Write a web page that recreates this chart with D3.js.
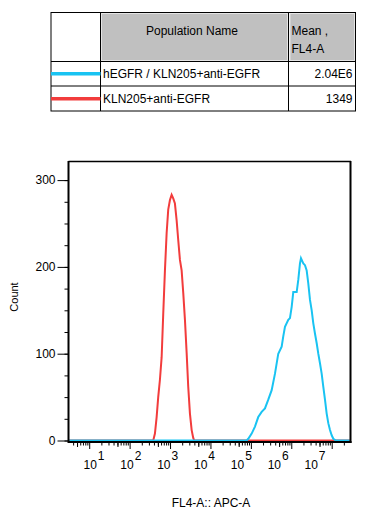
<!DOCTYPE html>
<html>
<head>
<meta charset="utf-8">
<script src="https://cdn.jsdelivr.net/npm/d3@7"></script>
<style>
  body { margin: 0; background: #fff; }
  svg { display: block; font-family: "Liberation Sans", Arial, sans-serif; }
</style>
</head>
<body>
<svg id="chart" width="370" height="513"></svg>
<script>
// legend table
var populationNames = ["hEGFR / KLN205+anti-EGFR", "KLN205+anti-EGFR"];
var meanValues = ["2.04E6", "1349"];
var seriesColors = ["#19c3f2", "#f23c3c"];

// histogram data (FL4-A intensity, count)
var redX = [3.2, 384, 423, 466, 510, 562, 620, 679, 748, 824, 902, 995, 1096, 1200, 1321, 1455, 1595, 1758, 1936, 2123, 2339, 2576, 2820, 3109, 3427, 3750, 3972, 2.8e7];
var redY = [0, 0, 8, 27, 50, 70, 96, 146, 196, 239, 266, 277, 283, 279, 273, 254, 231, 208, 196, 170, 139, 101, 62, 31, 12, 3, 0, 0];

var blueX = [3.2, 78700, 86300, 104700, 126300, 152300, 185000, 223200, 269600, 327300, 395200, 476600, 578100, 633400, 698000, 843000, 928000, 1023000, 1121000, 1361000, 1490000, 1641000, 1738000, 1982000, 2183000, 2404000, 2635000, 2904000, 3199000, 3508000, 3864000, 4256000, 4660000, 5129000, 5649000, 6194000, 6823000, 7516000, 8241000, 9078000, 10000000, 10960000, 12760000, 2.8e7];
var blueY = [0, 0, 2, 8, 16, 27, 33, 37, 47, 58, 77, 100, 108, 120, 131, 139, 141, 154, 171, 171, 185, 204, 210, 204, 202, 196, 181, 162, 150, 135, 123, 112, 100, 89, 77, 62, 47, 31, 20, 12, 6, 2, 0, 0];

var yTicks = [0, 100, 200, 300];
var xExponents = [1, 2, 3, 4, 5, 6, 7];

var svg = d3.select("#chart");

//---- table ----
var table = svg.append("g");
var tx0 = 51, tx1 = 100.5, tx2 = 288.5, tx3 = 355.5;
var ty0 = 12.5, ty1 = 61.5, ty2 = 86, ty3 = 111;

table.append("rect").attr("x", tx2 - 187).attr("y", ty0 + 1).attr("width", 186).attr("height", ty1 - ty0 - 2)
  .attr("fill", "#c0c0c0").attr("stroke", "#e4e4e4");
table.append("rect").attr("x", tx2 + 1.5).attr("y", ty0 + 1).attr("width", tx3 - tx2 - 2.5).attr("height", ty1 - ty0 - 2)
  .attr("fill", "#c0c0c0").attr("stroke", "#e4e4e4");

table.append("rect").attr("x", tx0).attr("y", ty0).attr("width", tx3 - tx0).attr("height", ty3 - ty0)
  .attr("fill", "none").attr("stroke", "#000");
[tx1, tx2].forEach(function (x) {
  table.append("line").attr("x1", x).attr("x2", x).attr("y1", ty0).attr("y2", ty3).attr("stroke", "#000");
});
[ty1, ty2].forEach(function (y) {
  table.append("line").attr("x1", tx0).attr("x2", tx3).attr("y1", y).attr("y2", y).attr("stroke", "#000");
});

table.append("text").attr("x", 192).attr("y", 34.5).attr("text-anchor", "middle")
  .attr("font-size", 12).text("Population Name");
table.append("text").attr("x", 291.5).attr("y", 34.5).attr("font-size", 12).text("Mean ,");
table.append("text").attr("x", 291.5).attr("y", 52.5).attr("font-size", 12).text("FL4-A");

var rowCenters = [73.7, 98.7];
populationNames.forEach(function (name, i) {
  table.append("line").attr("x1", tx0).attr("x2", tx1).attr("y1", rowCenters[i]).attr("y2", rowCenters[i])
    .attr("stroke", seriesColors[i]).attr("stroke-width", 3.5);
  table.append("text").attr("x", 103).attr("y", rowCenters[i] + 4.3).attr("font-size", 12).text(name);
  table.append("text").attr("x", 352.5).attr("y", rowCenters[i] + 4.3).attr("font-size", 12)
    .attr("text-anchor", "end").text(meanValues[i]);
});

//---- histogram ----
var x = d3.scaleLog().domain([Math.pow(10, 0.5), Math.pow(10, 7.453)]).range([69, 350]);
var y = d3.scaleLinear().domain([0, 322]).range([440.5, 161]);
var labelPos = d3.scaleLog().domain([10, 1e7]).range([90, 311]);

var line = d3.line()
  .x(function (d) { return x(d[0]); })
  .y(function (d) { return y(d[1]); });

svg.append("path")
  .attr("d", line(d3.zip(redX, redY)))
  .attr("fill", "none").attr("stroke", seriesColors[1]).attr("stroke-width", 2);
svg.append("path")
  .attr("d", line(d3.zip(blueX, blueY)))
  .attr("fill", "none").attr("stroke", seriesColors[0]).attr("stroke-width", 2);

// frame
svg.append("line").attr("x1", 68.5).attr("x2", 351).attr("y1", 161.5).attr("y2", 161.5).attr("stroke", "#000").attr("stroke-width", 1.5);
svg.append("line").attr("x1", 350.5).attr("x2", 350.5).attr("y1", 161).attr("y2", 443).attr("stroke", "#000").attr("stroke-width", 2);

// y axis
var yAxis = svg.append("g").attr("transform", "translate(68.5,0)");
yAxis.append("g")
  .call(d3.axisLeft(y).tickValues(d3.range(0, 322, 25)).tickSize(4).tickFormat(""))
  .call(function (g) { g.select(".domain").remove(); });
yAxis.append("g")
  .call(d3.axisLeft(y).tickValues(yTicks).tickSize(11).tickPadding(2))
  .call(function (g) {
    g.select(".domain").remove();
    g.selectAll("text").attr("font-size", 12).attr("font-family", null).attr("fill", "#000");
  });
yAxis.append("line").attr("x1", 0).attr("x2", 0).attr("y1", 161).attr("y2", 443).attr("stroke", "#000").attr("stroke-width", 2);

svg.append("text").attr("transform", "translate(17.5,297) rotate(-90)")
  .attr("text-anchor", "middle").attr("font-size", 11).text("Count");

// x axis
var xAxis = svg.append("g").attr("transform", "translate(0,442)");
var minorTicks = x.ticks().filter(function (v) {
  var m = v / Math.pow(10, Math.floor(Math.log10(v) + 1e-9));
  return Math.abs(m - 1) > 1e-6;
});
xAxis.append("g")
  .call(d3.axisBottom(x).tickValues(minorTicks).tickSize(3.5).tickFormat(""))
  .call(function (g) { g.select(".domain").remove(); });
xAxis.append("g")
  .call(d3.axisBottom(x).tickValues(minorTicks.filter(function (v) {
    return Math.abs(v / Math.pow(10, Math.floor(Math.log10(v) + 1e-9)) - 5) < 1e-6;
  })).tickSize(5).tickFormat(""))
  .call(function (g) { g.select(".domain").remove(); });
xAxis.append("g")
  .call(d3.axisBottom(x).tickValues(xExponents.map(function (e) { return Math.pow(10, e); })).tickSize(7).tickFormat(""))
  .call(function (g) { g.select(".domain").remove(); });
xAxis.append("line").attr("x1", 68).attr("x2", 351.5).attr("y1", 0).attr("y2", 0).attr("stroke", "#000").attr("stroke-width", 2);

var xl = svg.append("g").selectAll("text").data(xExponents).enter().append("text")
  .attr("x", function (e) { return labelPos(Math.pow(10, e)) - 6.5; })
  .attr("y", 468.5)
  .attr("font-size", 12);
xl.append("tspan").text("10");
xl.append("tspan").attr("dx", 1).attr("dy", -8.5).text(function (e) { return e; });

svg.append("text").attr("x", 211).attr("y", 507).attr("text-anchor", "middle")
  .attr("font-size", 12).text("FL4-A:: APC-A");
</script>
</body>
</html>
